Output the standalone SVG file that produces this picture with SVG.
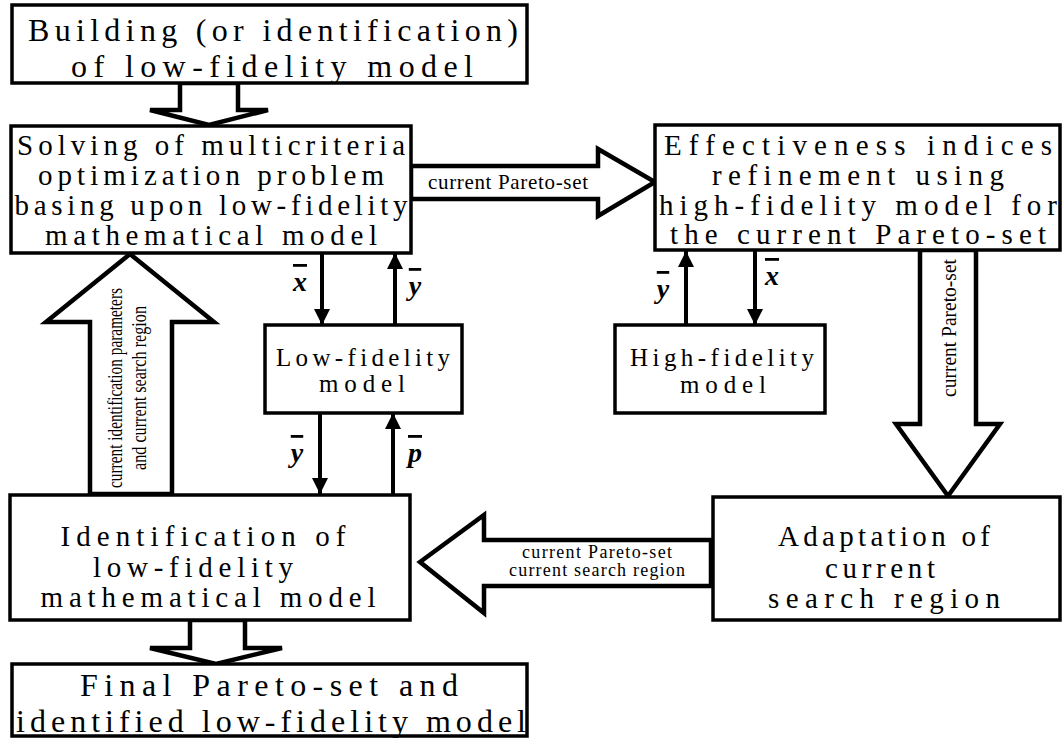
<svg xmlns="http://www.w3.org/2000/svg" width="1063" height="738" viewBox="0 0 1063 738">
<style>
.box{fill:#fff;stroke:#000;stroke-width:3.5}
.hol{fill:#fff;stroke:#000;stroke-width:4.5;stroke-linejoin:miter}
.t{font-family:"Liberation Serif","Times New Roman",serif;fill:#000;text-anchor:middle}
.big{font-size:32px}
.mid{font-size:29px}
.sm{font-size:25px}
.lab{font-family:"Liberation Serif","Times New Roman",serif;font-size:21px;fill:#000;text-anchor:middle}
.lab2{font-family:"Liberation Serif","Times New Roman",serif;font-size:18px;fill:#000;text-anchor:middle}
.m{font-family:"Liberation Serif","Times New Roman",serif;font-size:28px;font-weight:bold;font-style:italic;fill:#000;text-anchor:middle}
.ln{stroke:#000;stroke-width:4;fill:none}
</style>
<defs>
<marker id="ah" viewBox="0 0 10 10" refX="10" refY="5" markerWidth="4" markerHeight="4" markerUnits="strokeWidth" orient="auto">
<path d="M0,0 L10,5 L0,10 Z" fill="#000"/>
</marker>
</defs>
<g id="connectors">
<polygon class="hol" points="180,83 238,83 238,110 268,110 209,125 150,110 180,110"/>
<polygon class="hol" points="411,166 598,166 598,149 655,182 598,216 598,199 411,199"/>
<text class="lab" x="508" y="189" textLength="160">current Pareto-set</text>
<polygon class="hol" points="90,494 90,322 46,322 130,254 214,322 172,322 172,494"/>
<text class="lab" transform="translate(122,388) rotate(-90)" textLength="200" lengthAdjust="spacingAndGlyphs">current identification parameters</text>
<text class="lab" transform="translate(146,388) rotate(-90)" textLength="164" lengthAdjust="spacingAndGlyphs">and current search region</text>
<polygon class="hol" points="920,250 976,250 976,424 1000,424 948,496 896,424 920,424"/>
<text class="lab" transform="translate(956,328) rotate(-90)" textLength="138" lengthAdjust="spacingAndGlyphs">current Pareto-set</text>
<polygon class="hol" points="711,540 484,540 484,515 420,562 484,613 484,586 711,586"/>
<text class="lab2" x="597" y="558" textLength="150">current Pareto-set</text>
<text class="lab2" x="597" y="576" textLength="176">current search region</text>
<polygon class="hol" points="190,620 245,620 245,648 282,648 216,664 150,648 190,648"/>
<line class="ln" x1="322" y1="253" x2="322" y2="325" marker-end="url(#ah)"/>
<line class="ln" x1="395" y1="325" x2="395" y2="253" marker-end="url(#ah)"/>
<line class="ln" x1="320" y1="413" x2="320" y2="494" marker-end="url(#ah)"/>
<line class="ln" x1="393" y1="494" x2="393" y2="413" marker-end="url(#ah)"/>
<line class="ln" x1="686" y1="325" x2="686" y2="251" marker-end="url(#ah)"/>
<line class="ln" x1="755" y1="251" x2="755" y2="325" marker-end="url(#ah)"/>
<text class="m" x="300" y="291" style="text-decoration:overline">x</text>
<text class="m" x="415" y="295" style="text-decoration:overline">y</text>
<text class="m" x="297" y="462" style="text-decoration:overline">y</text>
<text class="m" x="415" y="462" style="text-decoration:overline">p</text>
<text class="m" x="663" y="298" style="text-decoration:overline">y</text>
<text class="m" x="772" y="285" style="text-decoration:overline">x</text>
</g>
<g id="n1">
<rect class="box" x="12" y="5" width="515" height="78"/>
<text class="t big" x="273" y="41" textLength="490">Building (or identification)</text>
<text class="t big" x="272" y="77" textLength="402">of low-fidelity model</text>
</g>
<g id="n2">
<rect class="box" x="11" y="126" width="400" height="127"/>
<text class="t mid" x="211" y="155" textLength="388">Solving  of multicriteria</text>
<text class="t mid" x="211" y="185" textLength="346">optimization problem</text>
<text class="t mid" x="211" y="215" textLength="393">basing upon low-fidelity</text>
<text class="t mid" x="211" y="245" textLength="332">mathematical model</text>
</g>
<g id="n3">
<rect class="box" x="655" y="125" width="405" height="125"/>
<text class="t mid" x="858" y="155" textLength="388">Effectiveness indices</text>
<text class="t mid" x="858" y="185" textLength="292">refinement using</text>
<text class="t mid" x="858" y="215" textLength="398">high-fidelity model for</text>
<text class="t mid" x="858" y="244" textLength="376">the current Pareto-set</text>
</g>
<g id="n4">
<rect class="box" x="265" y="325" width="197" height="88"/>
<text class="t sm" x="363" y="366" textLength="174">Low-fidelity</text>
<text class="t sm" x="362" y="392" textLength="86">model</text>
</g>
<g id="n5">
<rect class="box" x="615" y="325" width="210" height="88"/>
<text class="t sm" x="722" y="366" textLength="184">High-fidelity</text>
<text class="t sm" x="723" y="393" textLength="86">model</text>
</g>
<g id="n6">
<rect class="box" x="10" y="495" width="400" height="125"/>
<text class="t mid" x="203" y="546" textLength="285">Identification of</text>
<text class="t mid" x="193" y="577" textLength="200">low-fidelity</text>
<text class="t mid" x="208" y="607" textLength="335">mathematical model</text>
</g>
<g id="n7">
<rect class="box" x="713" y="497" width="347" height="123"/>
<text class="t mid" x="884" y="546" textLength="212">Adaptation of</text>
<text class="t mid" x="880" y="578" textLength="110">current</text>
<text class="t mid" x="884" y="608" textLength="232">search region</text>
</g>
<g id="n8">
<rect class="box" x="12" y="664" width="515" height="72"/>
<text class="t big" x="269" y="696" textLength="378">Final Pareto-set and</text>
<text class="t big" x="271" y="732" textLength="510">identified low-fidelity model</text>
</g>
</svg>
